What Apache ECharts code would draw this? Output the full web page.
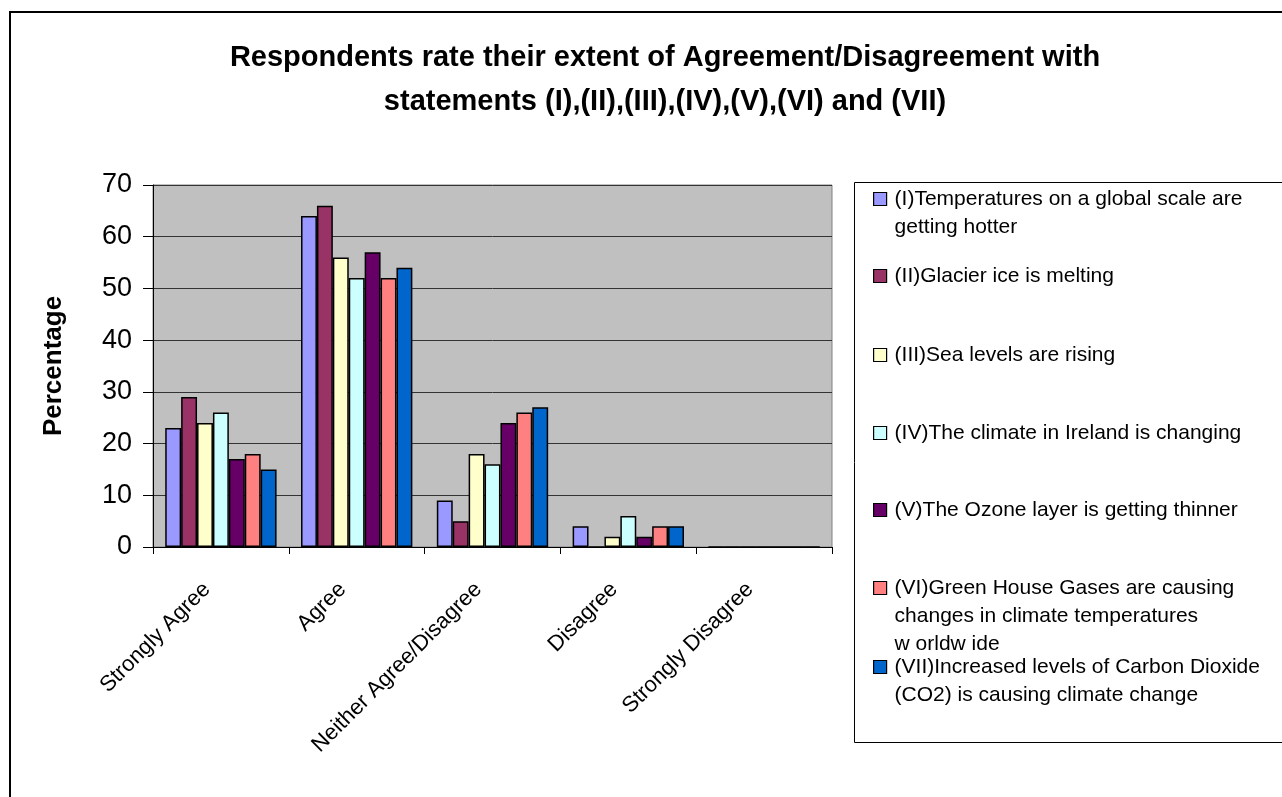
<!DOCTYPE html>
<html>
<head>
<meta charset="utf-8">
<script src="https://cdn.jsdelivr.net/npm/echarts@6/dist/echarts.min.js"></script>
<style>
html,body{margin:0;padding:0;background:#fff;}
#chart{width:1282px;height:797px;}
</style>
</head>
<body>
<div id="chart"></div>
<script>
const categories = ['Strongly Agree', 'Agree', 'Neither Agree/Disagree', 'Disagree', 'Strongly Disagree'];
const seriesNames = [
  '(I)Temperatures on a global scale are getting hotter',
  '(II)Glacier ice is melting',
  '(III)Sea levels are rising',
  '(IV)The climate in Ireland is changing',
  '(V)The Ozone layer is getting thinner',
  '(VI)Green House Gases are causing changes in climate temperatures worldwide',
  '(VII)Increased levels of Carbon Dioxide (CO2) is causing climate change'
];
const legendLines = [
  ['(I)Temperatures on a global scale are', 'getting hotter'],
  ['(II)Glacier ice is melting'],
  ['(III)Sea levels are rising'],
  ['(IV)The climate in Ireland is changing'],
  ['(V)The Ozone layer is getting thinner'],
  ['(VI)Green House Gases are causing', 'changes in climate temperatures', 'w orldw ide'],
  ['(VII)Increased levels of Carbon Dioxide', '(CO2) is causing climate change']
];
const valuesI   = [23, 64, 9, 4, 0];
const valuesII  = [29, 66, 5, 0, 0];
const valuesIII = [24, 56, 18, 2, 0];
const valuesIV  = [26, 52, 16, 6, 0];
const valuesV   = [17, 57, 24, 2, 0];
const valuesVI  = [18, 52, 26, 4, 0];
const valuesVII = [15, 54, 27, 4, 0];
const allValues = [valuesI, valuesII, valuesIII, valuesIV, valuesV, valuesVI, valuesVII];
const colors = ['#9999FF', '#993366', '#FFFFCC', '#CCFFFF', '#660066', '#FF8080', '#0066CC'];
const yTicks = [0, 10, 20, 30, 40, 50, 60, 70];

const FONT = 'Liberation Sans, Arial, sans-serif';
const iconCenters = [199, 276, 355, 433, 510, 588, 667];
const LH = 28;

const legends = seriesNames.map((name, i) => {
  const lines = legendLines[i];
  const pad = lines.length - 1;
  const k = lines.length + pad;
  const text = '\n'.repeat(pad) + lines.join('\n');
  return {
    data: [name],
    orient: 'vertical',
    left: 873,
    top: iconCenters[i] - k * LH / 2,
    padding: 0,
    itemWidth: 13,
    itemHeight: 13,
    itemGap: 0,
    icon: 'rect',
    selectedMode: false,
    formatter: () => text,
    textStyle: { fontFamily: FONT, fontSize: 21, color: '#000', lineHeight: LH, padding: [0, 0, 0, 3] },
    itemStyle: { borderColor: '#000', borderWidth: 1.2 }
  };
});

const chart = echarts.init(document.getElementById('chart'), null, { renderer: 'canvas' });
chart.setOption({
  backgroundColor: '#fff',
  animation: false,
  title: {
    text: 'Respondents rate their extent of Agreement/Disagreement with\nstatements (I),(II),(III),(IV),(V),(VI) and (VII)',
    left: 665,
    top: 36,
    textAlign: 'center',
    padding: 0,
    textStyle: { fontFamily: FONT, fontSize: 29, fontWeight: 'bold', color: '#000', lineHeight: 44 }
  },
  legend: legends,
  grid: {
    left: 153, right: 1282 - 832, top: 185, bottom: 797 - 547,
    show: true, backgroundColor: '#C0C0C0', borderColor: '#808080', borderWidth: 1
  },
  xAxis: {
    type: 'category',
    data: categories,
    axisLine: { lineStyle: { color: '#000', width: 1 } },
    axisTick: { show: true, length: 7, lineStyle: { color: '#000' } },
    axisLabel: { rotate: 45, fontFamily: FONT, fontSize: 22, color: '#000', margin: 25, interval: 0, padding: [0, 20, 0, 0] }
  },
  yAxis: {
    type: 'value',
    min: 0, max: 70, interval: 10,
    name: 'Percentage',
    nameLocation: 'middle',
    nameGap: 86,
    nameTextStyle: { fontFamily: FONT, fontSize: 26, fontWeight: 'bold', color: '#000' },
    axisLine: { show: true, lineStyle: { color: '#000', width: 1 } },
    axisTick: { show: true, length: 10, lineStyle: { color: '#000' } },
    axisLabel: { fontFamily: FONT, fontSize: 27, color: '#000', margin: 21,
      formatter: v => yTicks.includes(v) ? String(v) : '' },
    splitLine: { show: true, lineStyle: { color: '#333', width: 1 } }
  },
  series: seriesNames.map((name, i) => ({
    name,
    type: 'bar',
    data: allValues[i],
    barGap: '0%',
    barCategoryGap: '18%',
    itemStyle: { color: colors[i], borderColor: '#000', borderWidth: 1.5 }
  })),
  graphic: [
    { type: 'rect', shape: { x: 10, y: 12, width: 1300, height: 800 }, style: { fill: 'none', stroke: '#000', lineWidth: 2 }, silent: true, z: -1 },
    { type: 'rect', shape: { x: 854.5, y: 182.5, width: 500, height: 560 }, style: { fill: '#fff', stroke: '#000', lineWidth: 1 }, silent: true, z: -1 }
  ]
});
</script>
</body>
</html>
